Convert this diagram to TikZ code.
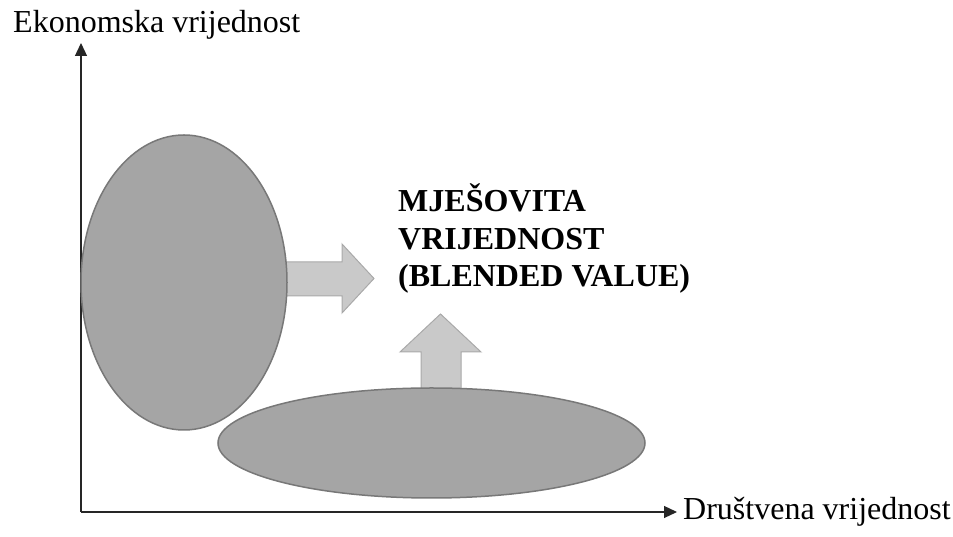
\documentclass[tikz,border=0pt]{standalone}
\usepackage{fontspec}
\setmainfont{Liberation Serif}
\usetikzlibrary{shapes.geometric,arrows.meta}
\definecolor{ellfill}{HTML}{A5A5A5}
\definecolor{elldraw}{HTML}{787878}
\definecolor{arrfill}{HTML}{C9C9C9}
\definecolor{arrdraw}{HTML}{A9A9A9}
\tikzset{
  blob/.style={ellipse, fill=ellfill, draw=elldraw, line width=1.5pt, inner sep=0pt},
  fatarrow/.style={fill=arrfill, draw=arrdraw, line width=1pt, line join=miter},
  axis/.style={line width=1.2pt, draw=black!85, -{Triangle[length=13pt,width=12pt]}},
  lbl/.style={font=\fontsize{32}{37.5}\selectfont, inner sep=0pt, anchor=base west},
  blbl/.style={font=\fontsize{32}{37.5}\selectfont\bfseries, inner sep=0pt, anchor=base west}
}
\begin{document}
\begin{tikzpicture}[x=1pt,y=1pt]
\useasboundingbox (0,0) rectangle (953,537);
% axes
\coordinate (o) at (81,25);
\coordinate (ytip) at (81,494);
\coordinate (xtip) at (677,25);
\draw[axis] (o) -- (ytip);
\draw[axis] (o) -- (xtip);
% fat arrows
\draw[fatarrow] (280,275) -- (342,275) -- (342,293) -- (374,258.5) -- (342,224) -- (342,241) -- (280,241) -- cycle;
\draw[fatarrow] (421,140) -- (421,185) -- (400,185) -- (440.5,223) -- (481,185) -- (461,185) -- (461,140) -- cycle;
% ellipses
\node[blob, minimum width=206pt, minimum height=295pt] (ev) at (184,254.5) {};
\node[blob, minimum width=427pt, minimum height=110pt] (dv) at (431.5,94) {};
% labels
\node[lbl] (ylab) at (13,504) {Ekonomska vrijednost};
\node[lbl] (xlab) at (683,17) {Društvena vrijednost};
\node[blbl] (t1) at (398,325) {MJEŠOVITA};
\node[blbl] (t2) at (398,287) {VRIJEDNOST};
\node[blbl] (t3) at (398,250) {(BLENDED VALUE)};
\end{tikzpicture}
\end{document}
